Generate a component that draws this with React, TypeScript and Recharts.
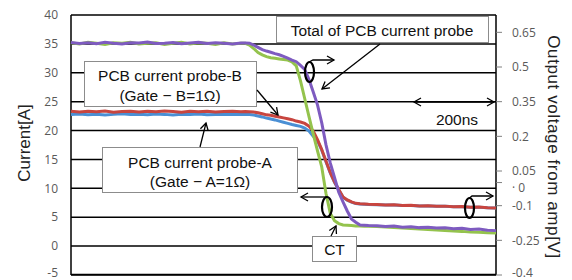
import React from "react";
import { LineChart, Line, XAxis, YAxis, CartesianGrid } from "recharts";

// time axis (ns), 200 ns per division
const timeNs = [
  0, 20, 40, 60, 80, 100, 120, 140, 160, 180, 200, 220, 240, 260, 280, 300, 320, 340, 360, 380, 400,
  410, 420, 430, 440, 450, 460, 470, 480, 490, 500, 510, 520, 530, 540, 550, 560, 570, 580, 590, 600,
  610, 620, 630, 640, 650, 660, 670, 680, 690, 700,
  720, 740, 760, 780, 800, 820, 840, 860, 880, 900, 920, 940, 960, 980, 1000,
];

// CT current [A] (green, left axis)
const ctA = [
  35.2, 35.0, 35.3, 35.1, 34.9, 35.2, 35.1, 35.3, 35.0, 35.1, 35.2, 34.9, 35.1, 35.3, 35.0, 35.2, 35.1, 34.9, 35.2, 35.0, 35.1,
  35.1, 34.8, 34.2, 33.5, 33.1, 32.8, 32.6, 32.5, 32.4, 32.3, 32.2, 31.9, 31.2, 28.6, 25.5, 22.4, 19.4, 16.5, 13.7, 9.1,
  5.7, 4.4, 3.9, 3.65, 3.6, 3.55, 3.5, 3.48, 3.45, 3.42,
  3.39, 3.3, 3.24, 3.12, 3.06, 2.95, 2.89, 2.78, 2.72, 2.6, 2.55, 2.43, 2.4, 2.31, 2.27,
];

// total of PCB current probe [V] (purple, right axis)
const totalV = [
  0.606, 0.602, 0.605, 0.601, 0.607, 0.603, 0.6, 0.605, 0.604, 0.608, 0.602, 0.603, 0.606, 0.601, 0.604, 0.607, 0.602, 0.605, 0.603, 0.6, 0.604,
  0.604, 0.603, 0.595, 0.585, 0.575, 0.569, 0.564, 0.558, 0.553, 0.546, 0.538, 0.53, 0.523, 0.507, 0.489, 0.446, 0.392, 0.336, 0.258, 0.163,
  0.085, 0.022, -0.042, -0.084, -0.123, -0.158, -0.172, -0.184, -0.185, -0.186,
  -0.187, -0.19, -0.188, -0.193, -0.191, -0.195, -0.193, -0.197, -0.196, -0.2, -0.198, -0.203, -0.201, -0.206, -0.208,
];

// PCB current probe-B [V] (red, right axis)
const probeBV = [
  0.309, 0.305, 0.308, 0.306, 0.31, 0.304, 0.307, 0.309, 0.305, 0.308, 0.306, 0.31, 0.307, 0.304, 0.308, 0.306, 0.309, 0.305, 0.307, 0.308, 0.306,
  0.307, 0.306, 0.305, 0.302, 0.298, 0.293, 0.291, 0.287, 0.284, 0.28, 0.276, 0.272, 0.266, 0.262, 0.256, 0.244, 0.223, 0.186, 0.143, 0.092,
  0.044, 0.003, -0.03, -0.062, -0.075, -0.084, -0.09, -0.092, -0.093, -0.094,
  -0.095, -0.097, -0.096, -0.099, -0.098, -0.101, -0.1, -0.103, -0.102, -0.105, -0.104, -0.107, -0.106, -0.109, -0.11,
];

// PCB current probe-A [V] (blue, right axis)
const probeAV = [
  0.294, 0.297, 0.293, 0.296, 0.292, 0.295, 0.298, 0.294, 0.296, 0.293, 0.297, 0.295, 0.292, 0.296, 0.294, 0.297, 0.293, 0.295, 0.296, 0.294, 0.295,
  0.295, 0.294, 0.292, 0.288, 0.284, 0.279, 0.275, 0.271, 0.266, 0.261, 0.256, 0.251, 0.247, 0.243, 0.236, 0.223, 0.2, 0.18, 0.14, 0.09,
  0.042, 0.001, -0.032, -0.063, -0.076, -0.085, -0.091, -0.093, -0.094, -0.095,
  -0.096, -0.097, -0.097, -0.099, -0.099, -0.101, -0.101, -0.103, -0.103, -0.105, -0.105, -0.107, -0.107, -0.109, -0.11,
];

const timeTicks = [0, 200, 400, 600, 800, 1000];
const currentTicks = [-5, 0, 5, 10, 15, 20, 25, 30, 35, 40];
const voltTicks = [-0.4, -0.25, -0.1, 0, 0.05, 0.2, 0.35, 0.5, 0.65];

const rows = timeNs.map((t, i) => ({
  t,
  ct: ctA[i],
  total: totalV[i],
  probeB: probeBV[i],
  probeA: probeAV[i],
}));

const TICK_FONT = "'Open Sans', sans-serif";
const NOTE_FONT = "'Liberation Sans', Arial, sans-serif";

// the lowest labels sit on the bottom edge, lift them a little so they stay readable
const lift = (v: number, lowest: number) => (v === lowest ? -2 : 0);

const LeftTick = (props: any) => {
  const { x, y, payload } = props;
  return (
    <text x={x} y={y + lift(payload.value, -5)} dy="0.35em" textAnchor="end" fill="#595959" fontSize={12} fontFamily={TICK_FONT}>
      {String(payload.value)}
    </text>
  );
};

const RightTick = (props: any) => {
  const { x, y, payload } = props;
  const zero = payload.value === 0;
  return (
    <text
      x={x}
      y={y + (zero ? 5 : 0) + lift(payload.value, -0.4)}
      dy="0.35em"
      textAnchor="start"
      fill="#595959"
      fontSize={12}
      fontFamily={TICK_FONT}
    >
      {zero ? "· 0" : String(payload.value)}
    </text>
  );
};

const noteText = { fontFamily: NOTE_FONT, fontSize: 15.5, fill: "#111", textAnchor: "middle" as const, dominantBaseline: "central" as const };
const boxStyle = { fill: "#fff", stroke: "#8c8c8c", strokeWidth: 1 };
const arrow = { stroke: "#000", strokeWidth: 1.3, fill: "none", markerEnd: "url(#arr)" };
const ring = { stroke: "#000", strokeWidth: 2.2, fill: "none" };

const Notes = () => (
  <svg width={572} height={280} style={{ position: "absolute", left: 0, top: 0, pointerEvents: "none" }}>
    <defs>
      <marker id="arr" markerWidth="10" markerHeight="10" refX="8" refY="5" orient="auto-start-reverse" markerUnits="userSpaceOnUse">
        <path d="M1,1 L8,5 L1,9" fill="none" stroke="#000" strokeWidth="1.3" />
      </marker>
    </defs>

    {/* plot frame, bottom edge included */}
    <line x1={71} y1={274.5} x2={496} y2={274.5} stroke="#000" strokeWidth={1.6} />

    <text x={24} y={143} transform="rotate(-90 24 143)" style={{ ...noteText, fontSize: 17, fill: "#222" }}>Current[A]</text>
    <text x={553} y={147} transform="rotate(90 553 147)" style={{ ...noteText, fontSize: 17, fill: "#222", letterSpacing: 0.6 }}>
      Output voltage from amp[V]
    </text>

    <rect x={276.5} y={16.5} width={212} height={26} style={boxStyle} />
    <text x={382} y={30} style={noteText}>Total of PCB current probe</text>
    <line x1={380} y1={44} x2={322} y2={89} style={arrow} />

    <rect x={84.5} y={61.5} width={172} height={45} style={boxStyle} />
    <text x={170} y={75} style={noteText}>PCB current probe-B</text>
    <text x={170} y={95} style={noteText}>(Gate − B=1Ω)</text>
    <line x1={257} y1={90} x2={278} y2={115} style={arrow} />

    <rect x={102.5} y={147.5} width={195} height={45} style={boxStyle} />
    <text x={200} y={162} style={noteText}>PCB current probe-A</text>
    <text x={200} y={181} style={noteText}>(Gate − A=1Ω)</text>
    <line x1={200} y1={147} x2={206} y2={123} style={arrow} />

    <rect x={312.5} y={236.5} width={44} height={25} style={boxStyle} />
    <text x={334.5} y={249.5} style={noteText}>CT</text>
    <line x1={331} y1={236} x2={336} y2={226} style={arrow} />

    <ellipse cx={309.5} cy={72} rx={4.5} ry={10} style={ring} />
    <polyline points="309,62 313,60 334,60" style={arrow} />

    <ellipse cx={327} cy={207} rx={5} ry={10} style={ring} />
    <polyline points="327,197 301,197" style={arrow} />

    <ellipse cx={469.5} cy={208} rx={4.5} ry={10} style={ring} />
    <polyline points="469.5,198 472,196 493,196" style={arrow} />

    <line x1={414} y1={102} x2={494} y2={102} style={{ ...arrow, markerStart: "url(#arr)" }} />
    <text x={457} y={119} style={noteText}>200ns</text>
  </svg>
);

export default function App() {
  return (
    <div style={{ position: "absolute", left: 0, top: 0, width: 572, height: 280, background: "#fff" }}>
      <LineChart width={572} height={280} data={rows} margin={{ top: 15, right: 0, bottom: 5, left: 0 }}>
        <CartesianGrid yAxisId="left" stroke="#000" strokeWidth={1.5} />
        <XAxis
          type="number"
          dataKey="t"
          domain={[0, 1000]}
          ticks={timeTicks}
          interval={0}
          height={0}
          tick={false}
          axisLine={false}
          tickLine={false}
        />
        <YAxis
          yAxisId="left"
          domain={[-5, 40]}
          ticks={currentTicks}
          interval={0}
          allowDataOverflow
          width={71}
          axisLine={false}
          tickLine={false}
          tickSize={0}
          tickMargin={13}
          tick={<LeftTick />}
        />
        <YAxis
          yAxisId="right"
          orientation="right"
          domain={[-0.4, 0.725]}
          ticks={voltTicks}
          interval={0}
          allowDataOverflow
          width={76}
          axisLine={false}
          tickLine={{ stroke: "#808080" }}
          tickSize={6}
          tickMargin={10}
          tick={<RightTick />}
        />
        <Line yAxisId="right" dataKey="probeA" stroke="#4a8fd4" strokeWidth={3} dot={false} type="linear" isAnimationActive={false} />
        <Line yAxisId="right" dataKey="probeB" stroke="#c8453f" strokeWidth={3} dot={false} type="linear" isAnimationActive={false} />
        <Line yAxisId="left" dataKey="ct" stroke="#94c34d" strokeWidth={3} dot={false} type="linear" isAnimationActive={false} />
        <Line yAxisId="right" dataKey="total" stroke="#7e5bc0" strokeWidth={3} dot={false} type="linear" isAnimationActive={false} />
      </LineChart>
      <Notes />
    </div>
  );
}
